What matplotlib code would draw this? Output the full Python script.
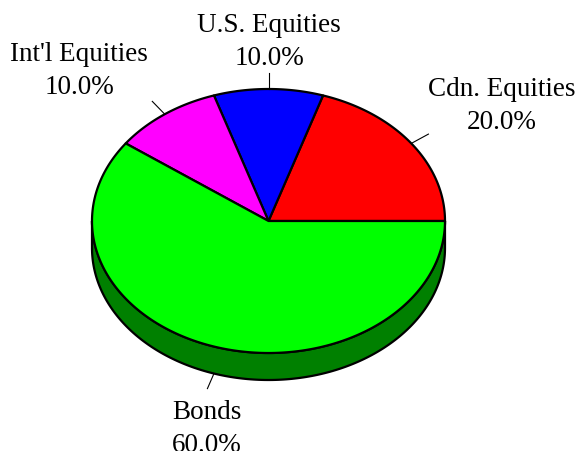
import numpy as np
import matplotlib.pyplot as plt
from matplotlib.patches import Polygon

# slice data, counter-clockwise starting at 3 o'clock
labels = ["Cdn. Equities", "U.S. Equities", "Int'l Equities", "Bonds"]
shares = [20.0, 10.0, 10.0, 60.0]
top_colors = ["#ff0000", "#0000ff", "#ff00ff", "#00ff00"]
side_colors = ["#800000", "#000080", "#800080", "#008000"]

# label anchor points (pixels)
label_pos = [(502, 106), (269, 42), (79, 71), (207, 429)]

W, H = 579, 452
cx, cy = 268.5, 222
rx, ry = 176.5, 132
depth = 27

fig = plt.figure(figsize=(W / 100, H / 100), dpi=100)
ax = fig.add_axes([0, 0, 1, 1])
ax.set_xlim(0, W)
ax.set_ylim(H, 0)
ax.axis('off')


def rim(t_deg, dy=0.0):
    t = np.radians(t_deg)
    return cx + rx * np.cos(t), cy - ry * np.sin(t) + dy


bounds = np.concatenate([[0], np.cumsum(shares)]) / 100 * 360

# side walls (only the front half, 180..360 deg, is visible)
for i in range(len(shares)):
    a0, a1 = max(bounds[i], 180), min(bounds[i + 1], 360)
    if a1 <= a0:
        continue
    t = np.linspace(a0, a1, 200)
    xs, ys = rim(t)
    xb, yb = rim(t[::-1], depth)
    pts = np.column_stack([np.concatenate([xs, xb]), np.concatenate([ys, yb])])
    ax.add_patch(Polygon(pts, closed=True, facecolor=side_colors[i],
                         edgecolor='black', linewidth=1.6, joinstyle='round'))

# top face
for i in range(len(shares)):
    t = np.linspace(bounds[i], bounds[i + 1], 200)
    xs, ys = rim(t)
    pts = np.column_stack([np.concatenate([[cx], xs]), np.concatenate([[cy], ys])])
    ax.add_patch(Polygon(pts, closed=True, facecolor=top_colors[i],
                         edgecolor='black', linewidth=1.6, joinstyle='round'))

# leader lines and labels
for i, (lab, val) in enumerate(zip(labels, shares)):
    mid = (bounds[i] + bounds[i + 1]) / 2
    dy = depth if 180 < mid < 360 else 0
    x0, y0 = rim(mid, dy)
    x1 = cx + (x0 - cx) * 1.12
    y1 = cy + dy + (y0 - cy - dy) * 1.12
    ax.plot([x0, x1], [y0, y1], color='black', linewidth=0.8)
    ax.text(label_pos[i][0], label_pos[i][1], f"{lab}\n{val:.1f}%",
            ha='center', va='center', fontsize=19.5, family='Liberation Serif',
            linespacing=1.45)

fig.savefig('out.png', dpi=100)
